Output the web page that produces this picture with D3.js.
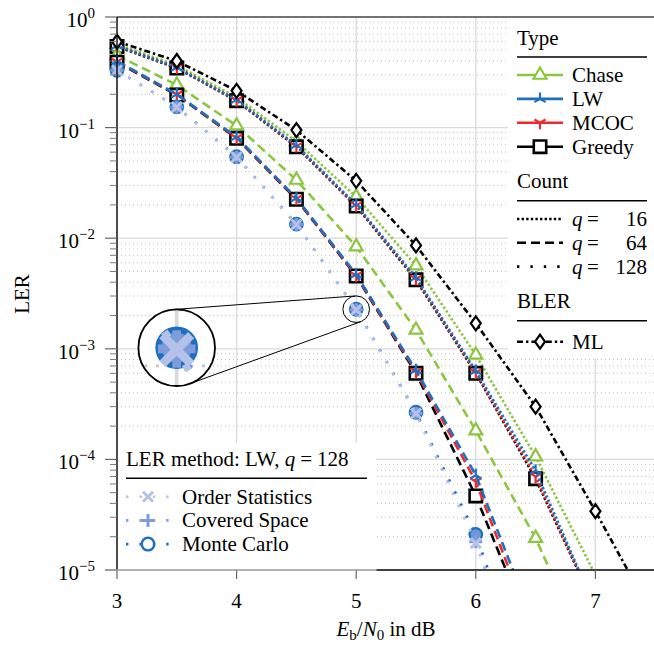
<!DOCTYPE html>
<html>
<head>
<meta charset="utf-8">
<script src="https://cdn.jsdelivr.net/npm/d3@7"></script>
<style>
  body { margin: 0; background: #fff; }
  svg { display: block; }
</style>
</head>
<body>
<div id="chart"></div>
<script>
const width = 654;
const height = 645;

// Eb/N0 grid in dB
const ebn0 = [3, 3.5, 4, 4.5, 5, 5.5, 6, 6.5, 7, 7.5];

// q = 16
const chaseQ16  = [0.57, 0.365, 0.188, 0.075, 0.0237, 0.00565, 0.00088, 0.000106, 9e-6];
const lwQ16     = [0.55, 0.35, 0.178, 0.069, 0.0201, 0.0044, 0.00063, 7.9e-5, 4.5e-6];
const mcocQ16   = [0.55, 0.35, 0.177, 0.068, 0.0198, 0.0043, 0.00061, 7.0e-5, 4.5e-6];
const greedyQ16 = [0.54, 0.345, 0.175, 0.067, 0.0195, 0.0042, 0.0006, 6.7e-5, 4.5e-6];

// q = 64
const chaseQ64  = [0.45, 0.243, 0.104, 0.0336, 0.0084, 0.00148, 0.000182, 1.94e-5, 1.2e-6];
const lwQ64     = [0.40, 0.20, 0.082, 0.023, 0.0047, 0.00064, 7.2e-5, 3e-6];
const mcocQ64   = [0.395, 0.199, 0.081, 0.0228, 0.0046, 0.00062, 6.3e-5, 2.4e-6];
const greedyQ64 = [0.39, 0.197, 0.080, 0.0225, 0.00455, 0.0006, 4.67e-5, 2.2e-6];

// BLER of ML decoding
const mlBler = [0.60, 0.40, 0.215, 0.095, 0.033, 0.0086, 0.0017, 0.0003, 3.4e-5, 3.5e-6];

// LW, q = 128, three LER methods
const lwQ128OrderStats   = [0.33, 0.153, 0.054, 0.0133, 0.00225, 0.00026, 1.75e-5, 5e-7];
const lwQ128CoveredSpace = [0.33, 0.153, 0.054, 0.0133, 0.00226, 0.00026, 1.8e-5, 5e-7];
const lwQ128MonteCarlo   = [0.33, 0.154, 0.0546, 0.0134, 0.00228, 0.000267, 2.1e-5, 6e-7];

// ticks and legend labels
const xTicks = [3, 4, 5, 6, 7];
const yTicks = [1, 1e-1, 1e-2, 1e-3, 1e-4, 1e-5];
const yTickExps = ["0", "\u22121", "\u22122", "\u22123", "\u22124", "\u22125"];
const typeNames = ["Chase", "LW", "MCOC", "Greedy"];
const countValues = [16, 64, 128];
const methodNames = ["Order Statistics", "Covered Space", "Monte Carlo"];

const col = {
  chase: "#8cc63f", lw: "#1f6fc0", mcoc: "#ee2a30", greedy: "#000",
  os: "#b4c2ea", cs: "#7f9cda", mc: "#1f6fc0"
};
const dash = { q16: "2.4,2.2", q64: "9,5", q128: "2.4,11", ml: "6,3,2.4,3" };

const marks = {
  triangle: "M0,-7.5L6.5,3.75L-6.5,3.75Z",
  square: "M-6.2,-6.2H6.2V6.2H-6.2Z",
  diamond: "M0,-7L5,0L0,7L-5,0Z",
  triUp: "M0,0V-6.5M0,0L5.6,3.25M0,0L-5.6,3.25",
  triDown: "M0,0V6.5M0,0L-5.6,-3.25M0,0L5.6,-3.25",
  circle: d3.symbol(d3.symbolCircle, Math.PI * 6.3 * 6.3)(),
  plus: "M-6.5,0H6.5M0,-6.5V6.5",
  cross: "M-5,-5L5,5M-5,5L5,-5"
};

const xScale = d3.scaleLinear().domain([3, 7.5]).range([117, 655.2]);
const yScale = d3.scaleLog().domain([1e-5, 1]).range([570, 17]);

const series = [
  { values: chaseQ16, color: col.chase, dash: dash.q16, mark: "triangle", fill: "#fff" },
  { values: greedyQ16, color: col.greedy, dash: dash.q16, mark: "square", fill: "#fff", mw: 2.6 },
  { values: mcocQ16, color: col.mcoc, dash: dash.q16, mark: "triDown", fill: "none" },
  { values: lwQ16, color: col.lw, dash: dash.q16, mark: "triUp", fill: "none" },
  { values: chaseQ64, color: col.chase, dash: dash.q64, mark: "triangle", fill: "#fff" },
  { values: greedyQ64, color: col.greedy, dash: dash.q64, mark: "square", fill: "#fff", mw: 2.6 },
  { values: mcocQ64, color: col.mcoc, dash: dash.q64, mark: "triDown", fill: "none" },
  { values: lwQ64, color: col.lw, dash: dash.q64, mark: "triUp", fill: "none" },
  { values: mlBler, color: "#000", dash: dash.ml, mark: "diamond", fill: "#fff" },
  { values: lwQ128MonteCarlo, color: col.mc, dash: dash.q128, mark: "circle", fill: "#7098d8" },
  { values: lwQ128CoveredSpace, color: col.cs, dash: dash.q128, mark: "plus", fill: "none", mw: 3 },
  { values: lwQ128OrderStats, color: col.os, dash: dash.q128, mark: "cross", fill: "none", mw: 3 }
];

const svg = d3.select("#chart").append("svg").attr("width", width).attr("height", height);
const defs = svg.append("defs");
defs.append("clipPath").attr("id", "plotClip")
  .append("rect").attr("x", 100).attr("y", 0).attr("width", 560).attr("height", 570);

// everything inside the axes, reused by the magnifier
const content = svg.append("g").attr("id", "plotContent");

const minorY = [];
for (let e = -5; e < 0; e++) for (let m = 2; m <= 9; m++) minorY.push(m * Math.pow(10, e));

const grid = content.append("g");
grid.selectAll(".gmin").data(minorY).join("line")
  .attr("x1", 117).attr("x2", 655).attr("y1", d => yScale(d)).attr("y2", d => yScale(d))
  .attr("stroke", "#c4c4c4").attr("stroke-width", 1).attr("stroke-dasharray", "1,3");
grid.selectAll(".gmaj").data(yTicks.slice(1, 5)).join("line")
  .attr("x1", 117).attr("x2", 655).attr("y1", d => yScale(d)).attr("y2", d => yScale(d))
  .attr("stroke", "#dadada").attr("stroke-width", 1.3);
grid.selectAll(".gx").data(xTicks.slice(1)).join("line")
  .attr("x1", d => xScale(d)).attr("x2", d => xScale(d)).attr("y1", 17).attr("y2", 570)
  .attr("stroke", "#dadada").attr("stroke-width", 1.3);

const lineGen = d3.line().x(d => xScale(d[0])).y(d => yScale(d[1]));
const plots = content.append("g").attr("clip-path", "url(#plotClip)");
series.forEach(s => {
  const pts = s.values.map((v, i) => [ebn0[i], v]);
  plots.append("path").datum(pts)
    .attr("d", lineGen).attr("fill", "none")
    .attr("stroke", s.color).attr("stroke-width", 2.6)
    .attr("stroke-dasharray", s.dash);
  plots.append("g").selectAll("path").data(pts.filter(p => p[1] >= 1e-5)).join("path")
    .attr("transform", d => `translate(${xScale(d[0])},${yScale(d[1])})`)
    .attr("d", marks[s.mark])
    .attr("fill", s.fill).attr("stroke", s.color)
    .attr("stroke-width", s.mw || 2.2);
});

// axes
const axes = svg.append("g");
axes.append("line").attr("x1", 117).attr("x2", 654).attr("y1", 17).attr("y2", 17)
  .attr("stroke", "#444").attr("stroke-width", 1.4);
axes.append("line").attr("x1", 117).attr("x2", 117).attr("y1", 17).attr("y2", 570)
  .attr("stroke", "#000").attr("stroke-width", 1.4);
axes.append("line").attr("x1", 376).attr("x2", 654).attr("y1", 570).attr("y2", 570)
  .attr("stroke", "#000").attr("stroke-width", 1.4);
axes.selectAll(".ymin").data(minorY).join("line")
  .attr("x1", 110).attr("x2", 117).attr("y1", d => yScale(d)).attr("y2", d => yScale(d))
  .attr("stroke", "#777").attr("stroke-width", 1);
axes.selectAll(".ymaj").data(yTicks).join("line")
  .attr("x1", 105).attr("x2", 117).attr("y1", d => yScale(d)).attr("y2", d => yScale(d))
  .attr("stroke", "#666").attr("stroke-width", 1.2);
axes.selectAll(".xt").data(xTicks).join("line")
  .attr("x1", d => xScale(d)).attr("x2", d => xScale(d)).attr("y1", 570).attr("y2", 579)
  .attr("stroke", "#666").attr("stroke-width", 1.2);

axes.selectAll(".xl").data(xTicks).join("text")
  .attr("x", d => xScale(d)).attr("y", 608).attr("text-anchor", "middle")
  .attr("font-size", 21).text(d => d);
const yl = axes.selectAll(".yl").data(yTicks).join("text")
  .attr("x", 95).attr("y", d => yScale(d) + 10).attr("text-anchor", "end")
  .attr("font-size", 21);
yl.append("tspan").text("10");
yl.append("tspan").attr("dy", -9).attr("font-size", 15).text((d, i) => yTickExps[i]);

axes.append("text").attr("transform", "translate(29,294) rotate(-90)")
  .attr("text-anchor", "middle").attr("font-size", 21).text("LER");
const xl = axes.append("text").attr("x", 386).attr("y", 636)
  .attr("text-anchor", "middle").attr("font-size", 21);
xl.append("tspan").attr("font-style", "italic").text("E");
xl.append("tspan").attr("font-size", 15).attr("dy", 4).text("b");
xl.append("tspan").attr("dy", -4).text("/");
xl.append("tspan").attr("font-style", "italic").text("N");
xl.append("tspan").attr("font-size", 15).attr("dy", 4).text("0");
xl.append("tspan").attr("dy", -4).text(" in dB");

// magnifier around the Monte Carlo point at 5 dB
const sx = xScale(ebn0[4]), sy = yScale(lwQ128MonteCarlo[4]), sr = 13.3;
const bx = 176.7, by = 347.7, br = 38.3;
const k = br / sr;
const mag = svg.append("g");
defs.append("clipPath").attr("id", "magClip")
  .append("circle").attr("cx", bx).attr("cy", by).attr("r", br);
mag.append("circle").attr("cx", bx).attr("cy", by).attr("r", br).attr("fill", "#fff");
mag.append("g").attr("clip-path", "url(#magClip)")
  .append("use").attr("href", "#plotContent")
  .attr("transform", `translate(${bx},${by}) scale(${k}) translate(${-sx},${-sy})`);
const dx = sx - bx, dy = sy - by, D = Math.hypot(dx, dy);
const base = Math.atan2(dy, dx), th = Math.acos((br - sr) / D);
[base + th, base - th].forEach(a => {
  mag.append("line")
    .attr("x1", bx + br * Math.cos(a)).attr("y1", by + br * Math.sin(a))
    .attr("x2", sx + sr * Math.cos(a)).attr("y2", sy + sr * Math.sin(a))
    .attr("stroke", "#000").attr("stroke-width", 1);
});
mag.append("circle").attr("cx", bx).attr("cy", by).attr("r", br)
  .attr("fill", "none").attr("stroke", "#000").attr("stroke-width", 1.8);
mag.append("circle").attr("cx", sx).attr("cy", sy).attr("r", sr)
  .attr("fill", "none").attr("stroke", "#000").attr("stroke-width", 1);

// legend helpers
function sample(g, x0, x1, y, color, dasharray, mark, fill, mw) {
  g.append("line").attr("x1", x0).attr("x2", x1).attr("y1", y).attr("y2", y)
    .attr("stroke", color).attr("stroke-width", 2.6)
    .attr("stroke-dasharray", dasharray || null);
  if (mark) {
    g.append("path").attr("d", marks[mark])
      .attr("transform", `translate(${(x0 + x1) / 2},${y})`)
      .attr("fill", fill).attr("stroke", color).attr("stroke-width", mw || 2.2);
  }
}

// right legend
const lg = svg.append("g");
lg.append("rect").attr("x", 508).attr("y", 18).attr("width", 146).attr("height", 340).attr("fill", "#fff");
const head = (t, y, ry) => {
  lg.append("text").attr("x", 517).attr("y", y).attr("font-size", 21).text(t);
  lg.append("line").attr("x1", 517).attr("x2", 647).attr("y1", ry).attr("y2", ry)
    .attr("stroke", "#000").attr("stroke-width", 1.4);
};
head("Type", 45, 57);
const typeStyle = [
  [col.chase, "triangle", "#fff", 2.2],
  [col.lw, "triUp", "none", 2.2],
  [col.mcoc, "triDown", "none", 2.2],
  [col.greedy, "square", "#fff", 2.6]
];
typeNames.forEach((n, i) => {
  const y = 75 + i * 23.9;
  const st = typeStyle[i];
  sample(lg, 517, 563, y, st[0], null, st[1], st[2], st[3]);
  lg.append("text").attr("x", 572).attr("y", y + 7).attr("font-size", 21).text(n);
});
head("Count", 188, 200.7);
const countDash = [dash.q16, dash.q64, dash.q128];
countValues.forEach((q, i) => {
  const y = 219 + i * 23.8;
  sample(lg, 517, 563, y, "#000", countDash[i]);
  lg.append("text").attr("x", 572).attr("y", y + 7).attr("font-size", 21)
    .attr("font-style", "italic").text("q");
  lg.append("text").attr("x", 587).attr("y", y + 7).attr("font-size", 21).text("=");
  lg.append("text").attr("x", 647).attr("y", y + 7).attr("font-size", 21)
    .attr("text-anchor", "end").text(q);
});
head("BLER", 308, 320.7);
sample(lg, 517, 563, 341.7, "#000", dash.ml, "diamond", "#fff");
lg.append("text").attr("x", 572).attr("y", 348.7).attr("font-size", 21).text("ML");

// lower-left legend
const ll = svg.append("g");
ll.append("rect").attr("x", 118).attr("y", 443).attr("width", 258).attr("height", 126.3).attr("fill", "#fff");
ll.append("line").attr("x1", 105).attr("x2", 377).attr("y1", 570).attr("y2", 570)
  .attr("stroke", "#9a9a9a").attr("stroke-width", 1.6);
const tt = ll.append("text").attr("x", 126).attr("y", 466).attr("font-size", 21);
tt.append("tspan").text("LER method: LW, ");
tt.append("tspan").attr("font-style", "italic").text("q");
tt.append("tspan").attr("dx", 5).text("=");
tt.append("tspan").attr("dx", 5).text("128");
ll.append("line").attr("x1", 126).attr("x2", 367).attr("y1", 478.3).attr("y2", 478.3)
  .attr("stroke", "#000").attr("stroke-width", 1.4);
const methodStyle = [
  [col.os, "cross", "none", 3],
  [col.cs, "plus", "none", 3],
  [col.mc, "circle", "none", 2.4]
];
methodNames.forEach((n, i) => {
  const y = 496.7 + i * 23.7;
  const st = methodStyle[i];
  sample(ll, 126, 170, y, st[0], dash.q128, st[1], st[2], st[3]);
  ll.append("text").attr("x", 182).attr("y", y + 7).attr("font-size", 21).text(n);
});

// serif face set on every text element
svg.selectAll("text, tspan").style("font-family", '"Liberation Serif"');
</script>
</body>
</html>
